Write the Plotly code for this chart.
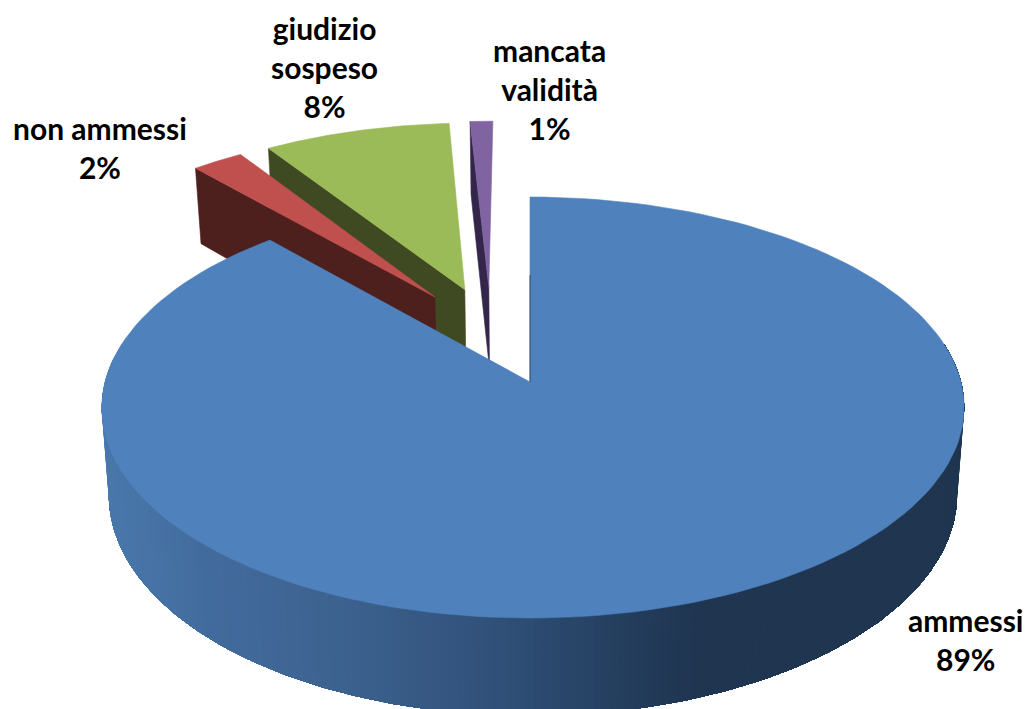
import numpy as np
import plotly.graph_objects as go

# ---- data -------------------------------------------------------------
categories = ["ammessi", "non ammessi", "giudizio sospeso", "mancata validità"]
values = [88.4, 2.3, 8.3, 1.0]
percent_labels = ["89%", "2%", "8%", "1%"]
label_lines = [["ammessi"], ["non ammessi"], ["giudizio", "sospeso"], ["mancata", "validità"]]

# ---- style ------------------------------------------------------------
top_colors = ["#4F81BD", "#C0504D", "#9BBB59", "#8064A2"]
wall_colors = ["#1F3550", "#4D1F1D", "#3F4A22", "#33264A"]
side_stops_x = [105, 200, 350, 500, 600, 700, 965]
side_stops_rgb = [(74, 120, 172), (67, 108, 158), (60, 97, 142), (48, 80, 120),
                  (38, 65, 98), (31, 53, 80), (31, 53, 80)]
label_pos = {0: (966, 639), 1: (100, 147.5), 2: (324, 66.5), 3: (549, 88.5)}
slice_nudge = [0, 3, 3, -2]
FONT = "Lato"
FONT_SIZE = 30

# ---- projection of the tilted disc onto the page -----------------------
P = 0.1212
X0 = 530.0
EXPLODE = 0.25


def project(X, Y, level=0):
    X, Y = np.asarray(X, float), np.asarray(Y, float)
    w = 1 - P * Y
    if level == 0:
        return X0 + 428 * X / w + 3 * X ** 2, 382 + 207.4 * Y / w
    return X0 + 421 * X / w + 3 * X ** 2, 468 + 217.7 * Y / w


# slice angles, clockwise from the top of the pie
fractions = np.array(values) / sum(values)
edges = np.concatenate([[0], np.cumsum(fractions)]) * 2 * np.pi
mids = (edges[:-1] + edges[1:]) / 2
direction = np.stack([np.sin(mids), -np.cos(mids)], axis=1)
offsets = EXPLODE * (direction - direction[0])  # first slice stays the anchor


def rim(i, n=160):
    t = np.linspace(edges[i], edges[i + 1], n)
    return offsets[i][0] + np.sin(t), offsets[i][1] - np.cos(t)


def apex(i):
    return offsets[i][0], offsets[i][1]


fig = go.Figure()


def poly(xs, ys, color, width=0.6):
    fig.add_trace(go.Scatter(x=list(xs), y=list(ys), mode="lines", fill="toself",
                             fillcolor=color, line=dict(color=color, width=width),
                             hoverinfo="skip", showlegend=False))


def face(i):
    rx, ry = rim(i)
    ax, ay = apex(i)
    sx, sy = project(np.r_[ax, rx, ax], np.r_[ay, ry, ay])
    poly(sx + slice_nudge[i], sy, top_colors[i])


def left_wall(i):
    """Wall along the slice's closing radial edge."""
    ax, ay = apex(i)
    t = edges[i]
    ex, ey = ax + np.sin(t), ay - np.cos(t)
    tx, ty = project([ax, ex], [ay, ey], 0)
    bx, by = project([ex, ax], [ey, ay], 1)
    poly(np.r_[tx, bx, tx[0]] + slice_nudge[i], np.r_[ty, by, ty[0]], wall_colors[i])


# back slices first, so that the big one covers their hidden parts
for i in (2, 1, 3):
    left_wall(i)
    face(i)

# curved side of the big slice, shaded left to right; every step is painted
# over the previous one up to the far end, so no seams appear between steps
t = np.linspace(np.pi * 1.56, np.pi * 0.44, 200)
X, Y = np.sin(t), -np.cos(t)
tx, ty = project(X, Y, 0)
bx, by = project(X, Y, 1)
for k in range(len(t) - 1):
    rgb = [np.interp(tx[k], side_stops_x, [c[j] for c in side_stops_rgb]) for j in range(3)]
    col = "rgb(%d,%d,%d)" % tuple(rgb)
    poly(np.r_[tx[k:], bx[k:][::-1], tx[k]], np.r_[ty[k:], by[k:][::-1], ty[k]], col, width=0)

face(0)

# dark sliver of the wall seen along the first radial edge of the big slice
sx, sy = project([0, 0], [-0.55, 0])
fig.add_trace(go.Scatter(x=sx, y=sy, mode="lines", hoverinfo="skip", showlegend=False,
                         line=dict(color="rgba(31,53,80,0.75)", width=1)))

annotations = []
for i, lines in enumerate(label_lines):
    text = "<br>".join(lines + [percent_labels[i]])
    annotations.append(dict(x=label_pos[i][0], y=label_pos[i][1], xref="x", yref="y",
                            text="<b>%s</b>" % text, showarrow=False, align="center",
                            xanchor="center", yanchor="middle",
                            font=dict(family=FONT, size=FONT_SIZE, color="#000000")))

fig.update_layout(
    width=1029, height=709, margin=dict(l=0, r=0, t=0, b=0),
    paper_bgcolor="white", plot_bgcolor="white", showlegend=False,
    xaxis=dict(range=[0, 1029], visible=False, fixedrange=True),
    yaxis=dict(range=[709, 0], visible=False, fixedrange=True),
    annotations=annotations,
)
fig.write_html("out.html", config={"displayModeBar": False},
               post_script="document.body.style.margin='0';document.body.style.overflow='hidden';")
